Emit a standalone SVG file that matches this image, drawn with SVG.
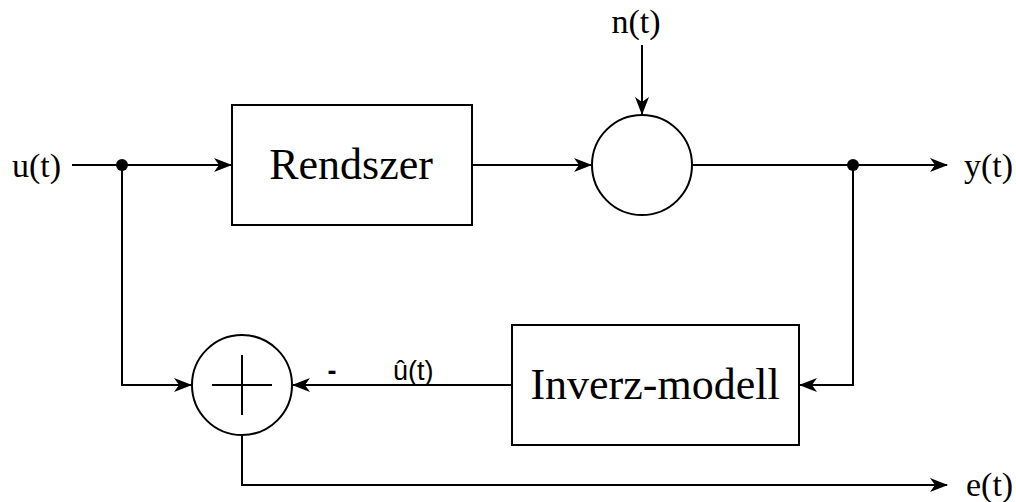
<svg xmlns="http://www.w3.org/2000/svg" width="1016" height="502" viewBox="0 0 1016 502">
<style>
.ln{fill:none;stroke:#000;stroke-width:2}
.sh{fill:#fff;stroke:#000;stroke-width:2}
.big{font-family:"Liberation Serif",serif;font-size:44px;fill:#000}
.lbl{font-family:"Liberation Serif",serif;font-size:34px;fill:#000}
.sm{font-family:"Liberation Sans",sans-serif;font-size:27px;fill:#000}
</style>
<defs>
<marker id="arr" viewBox="0 0 18 14" refX="17" refY="7" markerWidth="18" markerHeight="14" markerUnits="userSpaceOnUse" orient="auto">
<path d="M0,0 L18,7 L0,14 L5,7 Z" fill="#000"/>
</marker>
</defs>
<g id="connectors">
<path class="ln" d="M72,165 H231" marker-end="url(#arr)"/>
<path class="ln" d="M472,165 H591" marker-end="url(#arr)"/>
<path class="ln" d="M642,45 V114" marker-end="url(#arr)"/>
<path class="ln" d="M692,165 H947" marker-end="url(#arr)"/>
<path class="ln" d="M853,165 V385 H800" marker-end="url(#arr)"/>
<path class="ln" d="M512,385 H293" marker-end="url(#arr)"/>
<path class="ln" d="M122,165 V385 H191" marker-end="url(#arr)"/>
<path class="ln" d="M242,435 V485 H947" marker-end="url(#arr)"/>
<circle cx="122" cy="165" r="6" fill="#000"/>
<circle cx="853" cy="165" r="6" fill="#000"/>
</g>
<g id="u">
<text class="lbl" x="12" y="177">u(t)</text>
</g>
<g id="n">
<text class="lbl" x="636" y="33" text-anchor="middle">n(t)</text>
</g>
<g id="y">
<text class="lbl" x="964" y="177">y(t)</text>
</g>
<g id="e">
<text class="lbl" x="966" y="496">e(t)</text>
</g>
<g id="rendszer">
<rect class="sh" x="232" y="105" width="240" height="120"/>
<text class="big" x="351" y="179" text-anchor="middle">Rendszer</text>
</g>
<g id="noise-sum">
<circle class="sh" cx="642" cy="165" r="50"/>
</g>
<g id="inverz">
<rect class="sh" x="512" y="325" width="287" height="120"/>
<text class="big" x="655" y="399" text-anchor="middle">Inverz-modell</text>
</g>
<g id="sum">
<circle class="sh" cx="242" cy="385" r="50"/>
<path class="ln" d="M212,385 H272 M242,355 V415"/>
</g>
<g id="labels">
<text class="sm" x="332" y="380" text-anchor="middle" font-weight="bold">-</text>
<text class="sm" x="393" y="380">û(t)</text>
</g>
</svg>
